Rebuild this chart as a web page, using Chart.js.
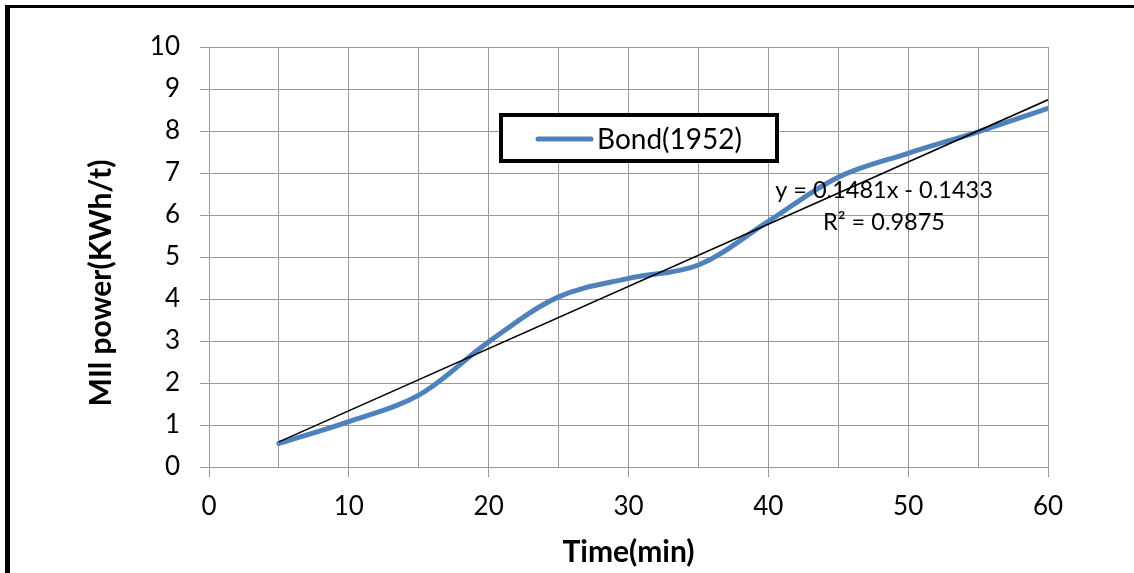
<!DOCTYPE html>
<html>
<head>
<meta charset="utf-8">
<script src="https://cdn.jsdelivr.net/npm/chart.js@4.4.1/dist/chart.umd.min.js"></script>
<style>
  html, body { margin: 0; padding: 0; background: #fff; overflow: hidden; }
  #wrap { position: relative; width: 1134px; height: 573px; }
  #marco { position: absolute; left: 5px; top: 5px; width: 1200px; height: 700px;
           border-left: 5px solid #000; border-top: 3px solid #000; pointer-events: none; }
</style>
</head>
<body>
<div id="wrap">
  <canvas id="chart" width="1134" height="573"></canvas>
  <div id="marco"></div>
</div>
<script>
// DATOS DE LA GRAFICA
var tiempos = [5, 10, 15, 20, 25, 30, 35, 40, 45, 50, 55, 60];
var potencia = [0.56, 1.08, 1.71, 2.98, 4.05, 4.49, 4.81, 5.85, 6.9, 7.47, 7.98, 8.54];
var nombreSerie = 'Bond(1952)';
var pendiente = 0.1481;
var ordenada = -0.1433;
var textoEcuacion = 'y = 0.1481x - 0.1433';
var textoR2 = 'R² = 0.9875';
var tituloX = 'Time(min)';
var tituloY = 'MIl power(KWh/t)';

var fuente = 'Lato, "Open Sans", sans-serif';
var azul = '#4F81BD';
var gris = '#9a9a9a';

// puntos de la serie
var puntos = tiempos.map(function (t, i) { return { x: t, y: potencia[i] }; });

// linea de tendencia (desde la ecuacion mostrada)
var tendencia = [tiempos[0], tiempos[tiempos.length - 1]].map(function (t) {
    return { x: t, y: pendiente * t + ordenada };
});

// PLUGIN: leyenda, titulos de ejes y texto de la ecuacion
var extras = {
    id: 'extras',
    afterDraw: function (chart) {
        var ctx = chart.ctx;
        var area = chart.chartArea;
        ctx.save();

        // leyenda con marco negro
        ctx.lineWidth = 4;
        ctx.strokeStyle = '#000';
        ctx.fillStyle = '#fff';
        ctx.fillRect(501, 115, 276, 46);
        ctx.strokeRect(501, 115, 276, 46);
        ctx.beginPath();
        ctx.lineWidth = 5;
        ctx.lineCap = 'round';
        ctx.strokeStyle = azul;
        ctx.moveTo(538, 139);
        ctx.lineTo(591, 139);
        ctx.stroke();
        ctx.fillStyle = '#000';
        ctx.font = '28px ' + fuente;
        ctx.textAlign = 'left';
        ctx.textBaseline = 'middle';
        ctx.fillText(nombreSerie, 597, 140);

        // ecuacion de la tendencia
        ctx.font = '23.5px ' + fuente;
        ctx.textAlign = 'center';
        ctx.fillText(textoEcuacion, 884, 190);
        ctx.fillText(textoR2, 884, 222);

        // titulo eje x
        ctx.font = 'bold 30px ' + fuente;
        ctx.fillText(tituloX, (area.left + area.right) / 2, 552);

        // titulo eje y
        ctx.translate(101, 283);
        ctx.rotate(-Math.PI / 2);
        ctx.fillText(tituloY, 0, 0);
        ctx.restore();
    }
};

var ctx = document.getElementById('chart');
var miGrafica = new Chart(ctx, {
    type: 'line',
    data: {
        datasets: [
            {
                label: nombreSerie,
                data: puntos,
                borderColor: azul,
                borderWidth: 5,
                borderCapStyle: 'round',
                tension: 0.35,
                pointRadius: 0,
                fill: false,
                order: 2
            },
            {
                label: 'Tendencia',
                data: tendencia,
                borderColor: '#000',
                borderWidth: 1.5,
                tension: 0,
                pointRadius: 0,
                fill: false,
                order: 1
            }
        ]
    },
    options: {
        responsive: false,
        animation: false,
        layout: { padding: { top: 47, right: 86, left: 0, bottom: 0 } },
        plugins: {
            legend: { display: false },
            tooltip: { enabled: false }
        },
        scales: {
            x: {
                type: 'linear',
                min: 0,
                max: 60,
                afterFit: function (scale) { scale.height = 106; },
                border: { color: gris, width: 1 },
                grid: {
                    color: gris,
                    lineWidth: 1,
                    tickLength: 10,
                    tickColor: function (c) {
                        return (c.tick && c.tick.value % 10 === 0) ? gris : 'rgba(0,0,0,0)';
                    }
                },
                ticks: {
                    stepSize: 5,
                    autoSkip: false,
                    maxRotation: 0,
                    padding: 14,
                    color: '#000',
                    font: { family: fuente, size: 26 },
                    callback: function (v) { return v % 10 === 0 ? v : ''; }
                }
            },
            y: {
                min: 0,
                max: 10,
                afterFit: function (scale) { scale.width = 209; },
                border: { color: gris, width: 1 },
                grid: { color: gris, lineWidth: 1, tickLength: 9, tickColor: gris },
                ticks: {
                    stepSize: 1,
                    padding: 20,
                    color: '#000',
                    font: { family: fuente, size: 26 }
                }
            }
        }
    },
    plugins: [extras]
});
</script>
</body>
</html>
